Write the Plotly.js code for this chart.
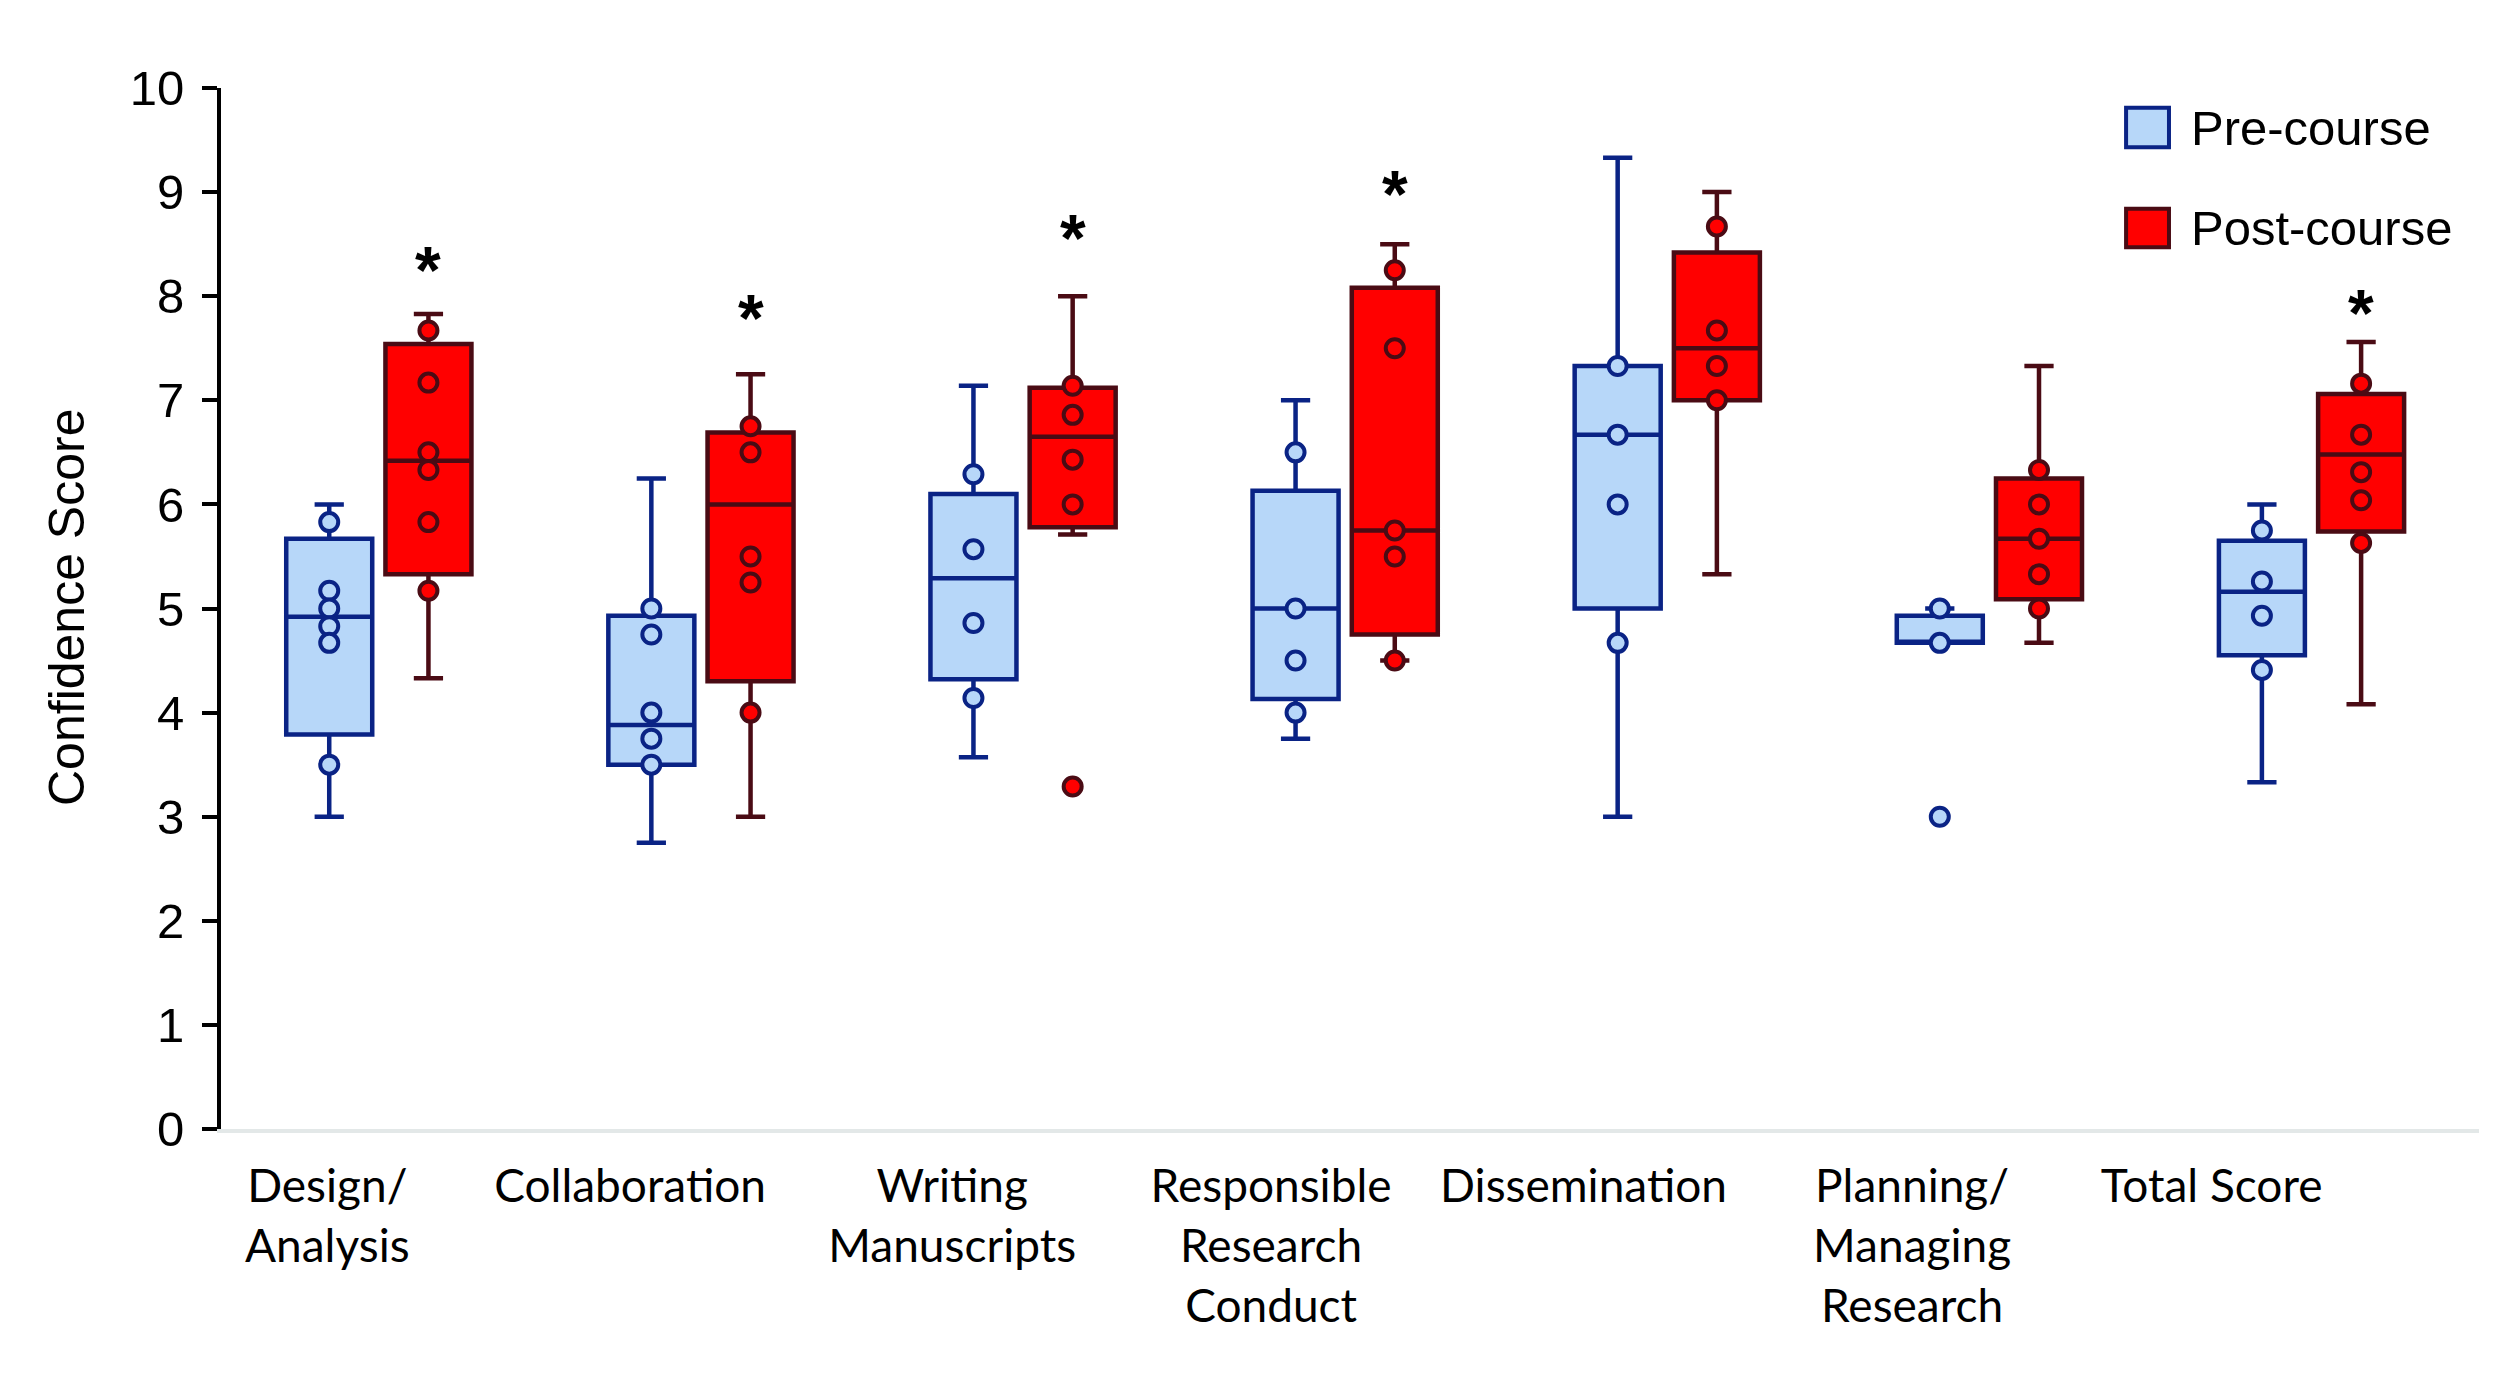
<!DOCTYPE html>
<html>
<head>
<meta charset="utf-8">
<script src="https://cdn.plot.ly/plotly-3.0.1.min.js"></script>
<style>
  html, body { margin: 0; padding: 0; background: #ffffff; }
  #chart { width: 2500px; height: 1381px; }
</style>
</head>
<body>
<div id="chart"></div>
<script>
// ---------------- DATA ----------------
const categories = ['Design/<br>Analysis', 'Collaboration', 'Writing<br>Manuscripts',
  'Responsible<br>Research<br>Conduct', 'Dissemination', 'Planning/<br>Managing<br>Research', 'Total Score'];

// Pre-course box statistics
const preLower  = [3.00, 2.75, 3.57, 3.75, 3.00, 4.67, 3.33];
const preQ1     = [3.79, 3.50, 4.32, 4.13, 5.00, 4.67, 4.55];
const preMedian = [4.92, 3.88, 5.29, 5.00, 6.67, 4.67, 5.16];
const preQ3     = [5.67, 4.93, 6.10, 6.13, 7.33, 4.93, 5.65];
const preUpper  = [6.00, 6.25, 7.14, 7.00, 9.33, 5.00, 6.00];

// Post-course box statistics
const postLower  = [4.33, 3.00, 5.71, 4.50, 5.33, 4.67, 4.08];
const postQ1     = [5.33, 4.30, 5.78, 4.75, 7.00, 5.09, 5.74];
const postMedian = [6.42, 6.00, 6.65, 5.75, 7.50, 5.67, 6.48];
const postQ3     = [7.54, 6.69, 7.12, 8.08, 8.42, 6.25, 7.06];
const postUpper  = [7.83, 7.25, 8.00, 8.50, 9.00, 7.33, 7.56];

// Individual points shown on each box
const prePoints = [
  [5.83, 5.17, 5.00, 4.83, 4.67, 3.50],
  [5.00, 4.75, 4.00, 3.75, 3.50],
  [6.29, 5.57, 4.86, 4.14],
  [6.50, 5.00, 4.50, 4.00],
  [7.33, 6.67, 6.00, 4.67],
  [5.00, 4.67, 3.00],
  [5.75, 5.26, 4.93, 4.41]
];
const postPoints = [
  [7.67, 7.17, 6.50, 6.33, 5.83, 5.17],
  [6.75, 6.50, 5.50, 5.25, 4.00],
  [7.14, 6.86, 6.43, 6.00, 3.29],
  [8.25, 7.50, 5.75, 5.50, 4.50],
  [8.67, 7.67, 7.33, 7.00],
  [6.33, 6.00, 5.67, 5.33, 5.00],
  [7.16, 6.67, 6.31, 6.04, 5.63]
];

// Significance markers (post vs pre) and the height of each asterisk
const significant = [true, true, true, true, false, false, true];
const starLevel   = [8.40, 7.93, 8.70, 9.13, null, null, 7.98];

const yTicks = [0, 1, 2, 3, 4, 5, 6, 7, 8, 9, 10];

// ---------------- STYLE / LAYOUT ----------------
const preFill = '#b7d7f9', preLine = '#0a2385';
const postFill = '#ff0000', postLine = '#4a0b14';
const offset = 0.154, boxW = 0.267;
const labelShift = [-0.16, -0.22, -0.22, -0.23, -0.26, -0.24, -0.31];
const axisFont = 'Liberation Sans, Arial, Helvetica, sans-serif';

const idx = categories.map((_, i) => i);
const preX = idx.map(i => i - offset);
const postX = idx.map(i => i + offset);

function flattenPoints(points, xs) {
  const px = [], py = [];
  points.forEach((arr, i) => arr.forEach(v => { px.push(xs[i]); py.push(v); }));
  return {px, py};
}
const preP = flattenPoints(prePoints, preX);
const postP = flattenPoints(postPoints, postX);

const traces = [
  {
    type: 'box', name: 'Pre-course', x: preX,
    q1: preQ1, median: preMedian, q3: preQ3, lowerfence: preLower, upperfence: preUpper,
    width: boxW, whiskerwidth: 0.34, boxpoints: false,
    fillcolor: preFill, line: {color: preLine, width: 4.5}, showlegend: false, hoverinfo: 'skip'
  },
  {
    type: 'box', name: 'Post-course', x: postX,
    q1: postQ1, median: postMedian, q3: postQ3, lowerfence: postLower, upperfence: postUpper,
    width: boxW, whiskerwidth: 0.34, boxpoints: false,
    fillcolor: postFill, line: {color: postLine, width: 4.5}, showlegend: false, hoverinfo: 'skip'
  },
  {
    type: 'scatter', mode: 'markers', x: preP.px, y: preP.py, showlegend: false, hoverinfo: 'skip',
    marker: {size: 18, color: preFill, line: {color: preLine, width: 4}}
  },
  {
    type: 'scatter', mode: 'markers', x: postP.px, y: postP.py, showlegend: false, hoverinfo: 'skip',
    marker: {size: 18, color: postFill, line: {color: postLine, width: 4}}
  }
];

const annotations = [];
significant.forEach((s, i) => {
  if (s) annotations.push({
    x: postX[i], y: starLevel[i], xref: 'x', yref: 'y', text: '<b>*</b>', showarrow: false,
    xanchor: 'center', yanchor: 'middle', yshift: -15,
    font: {family: axisFont, size: 66, color: '#000000'}
  });
});
// Y-axis title
annotations.push({xref: 'paper', yref: 'paper', x: -0.0682, y: 0.5005, text: 'Confidence Score',
  showarrow: false, textangle: -90, xanchor: 'center', yanchor: 'middle',
  font: {family: axisFont, size: 50, color: '#000000'}});
// Legend text
annotations.push({xref: 'paper', yref: 'paper', x: 0.8716, y: 0.962, text: 'Pre-course', showarrow: false,
  xanchor: 'left', yanchor: 'middle', font: {family: axisFont, size: 49, color: '#000000'}});
annotations.push({xref: 'paper', yref: 'paper', x: 0.8716, y: 0.8655, text: 'Post-course', showarrow: false,
  xanchor: 'left', yanchor: 'middle', font: {family: axisFont, size: 49, color: '#000000'}});

const shapes = [
  {type: 'rect', xref: 'paper', yref: 'paper', x0: 0.8437, x1: 0.8627, y0: 0.943, y1: 0.981,
   fillcolor: preFill, line: {color: preLine, width: 4}},
  {type: 'rect', xref: 'paper', yref: 'paper', x0: 0.8437, x1: 0.8627, y0: 0.847, y1: 0.884,
   fillcolor: postFill, line: {color: postLine, width: 4}}
];

const layout = {
  width: 2500, height: 1381,
  margin: {l: 221, r: 21, t: 88, b: 252},
  paper_bgcolor: '#ffffff', plot_bgcolor: '#ffffff',
  boxmode: 'overlay',
  showlegend: false,
  xaxis: {
    range: [-0.49, 6.52], showgrid: false, zeroline: false,
    showline: true, linecolor: '#e3e8e8', linewidth: 4,
    ticks: '', tickmode: 'array', tickvals: idx.map(i => i + labelShift[i]), ticktext: categories,
    tickfont: {family: 'Lato, Open Sans, sans-serif', size: 46, color: '#000000'},
    ticklabelstandoff: 14
  },
  yaxis: {
    range: [0, 10], showgrid: false, zeroline: false,
    showline: true, linecolor: '#000000', linewidth: 4,
    ticks: 'outside', ticklen: 15, tickwidth: 4, tickcolor: '#000000',
    tickmode: 'array', tickvals: yTicks, ticktext: yTicks.map(String),
    tickfont: {family: axisFont, size: 49, color: '#000000'},
    ticklabelstandoff: 8
  },
  annotations: annotations,
  shapes: shapes
};

Plotly.newPlot('chart', traces, layout, {displayModeBar: false, staticPlot: true});
</script>
</body>
</html>
